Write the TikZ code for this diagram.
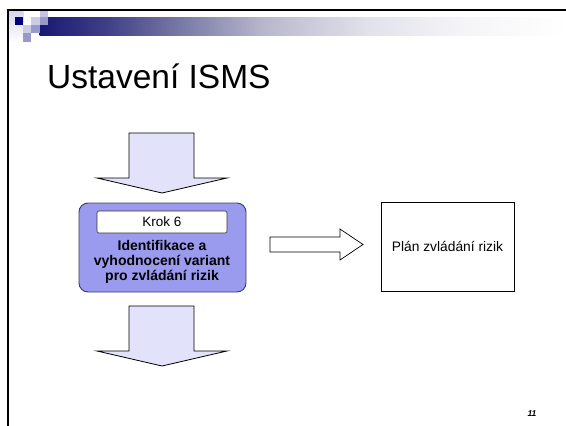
\documentclass[tikz,border=0pt]{standalone}
\usepackage{fontspec}
\setmainfont{Liberation Sans}
\usetikzlibrary{calc}

% header bar: navy fading out to white
\pgfdeclarehorizontalshading{barfade}{100bp}{%
  rgb(0bp)=(0.098,0.098,0.451);
  rgb(25bp)=(0.098,0.098,0.451);
  rgb(31bp)=(0.235,0.235,0.529);
  rgb(37bp)=(0.431,0.431,0.627);
  rgb(46.5bp)=(0.725,0.725,0.804);
  rgb(56bp)=(0.882,0.882,0.922);
  rgb(65.5bp)=(0.961,0.961,0.973);
  rgb(75bp)=(1,1,1);
  rgb(100bp)=(1,1,1)}

\definecolor{navy}{RGB}{0,0,128}
\definecolor{lavlight}{RGB}{204,204,230}
\definecolor{lavmid}{RGB}{153,153,204}
\definecolor{stepfill}{RGB}{154,154,238}
\definecolor{stepline}{RGB}{60,60,100}
\definecolor{arrowfill}{RGB}{226,226,250}

\begin{document}
\begin{tikzpicture}[x=1pt,y=-1pt,
  bigarrow/.style={draw=black,line width=0.8pt,fill=arrowfill,line join=miter},
  hollowarrow/.style={draw=black,line width=0.7pt,fill=white,line join=miter},
  stepbox/.style={draw=stepline,line width=0.9pt,fill=stepfill,rounded corners=9pt,
    minimum width=167pt,minimum height=89pt,inner sep=0pt},
  labelbox/.style={draw=black!80,line width=0.6pt,fill=white,rounded corners=2pt,
    minimum width=130pt,minimum height=22pt,inner sep=0pt,
    font=\fontsize{13.5pt}{15pt}\selectfont},
  plainbox/.style={draw=black,line width=0.7pt,fill=white,
    minimum width=133pt,minimum height=89pt,inner sep=0pt,
    font=\fontsize{13.8pt}{15pt}\selectfont}]
\useasboundingbox (0,0) rectangle (566,426);

% corner decoration
\shade[top color=lavlight!80,bottom color=white] (8.7,11) rectangle (23.3,42);
\shade[shading=barfade] (39.7,17.3) rectangle (566,35);
\fill[navy]     (14.7,17.3) rectangle (23.3,25.3);
\fill[lavlight] (31,17.3)   rectangle (39.7,25.3);
\fill[lavlight!85!lavmid] (39.7,9)  rectangle (48.3,17.3);
\fill[lavmid]   (39.7,17.3) rectangle (48.3,25.3);
\fill[lavlight] (23.3,25.3) rectangle (31,33.3);
\fill[lavmid]   (31,25.3)   rectangle (39.7,33.3);
\fill[lavmid]   (23.3,33.3) rectangle (31,42);

% slide frame
\draw[line width=2pt] (7.7,426) -- (7.7,10) -- (566,10);

% title
\node[anchor=base west,inner sep=0pt,font=\fontsize{33.5pt}{38pt}\selectfont]
  (title) at (47,88) {Ustavení ISMS};

% incoming arrow
\draw[bigarrow] (129,133) -- (194,133) -- (194,178) -- (227,178) -- (162,193)
  -- (97,178) -- (129,178) -- cycle;
\coordinate (intip) at (162,193);

% step box
\node[stepbox] (step) at (162.5,247.5) {};
\node[labelbox] (krok) at (162,222) {Krok 6};
\node[align=center,inner sep=0pt,font=\fontsize{14pt}{15pt}\selectfont\bfseries,anchor=base]
  (steptext) at (162,280) {Identifikace a\\vyhodnocení variant\\pro zvládání rizik};

% outgoing arrow
\draw[bigarrow] (129,306) -- (194,306) -- (194,351) -- (227,351) -- (162,366)
  -- (97,351) -- (129,351) -- cycle;
\coordinate (outtip) at (162,366);

% arrow to the plan
\draw[hollowarrow] (270,237) -- (340,237) -- (340,229) -- (363,244.5)
  -- (340,260) -- (340,252) -- (270,252) -- cycle;

% plan box
\node[plainbox] (plan) at (447.5,246.5) {Plán zvládání rizik};

% page number
\node[anchor=base,inner sep=0pt,font=\fontsize{8.5pt}{10pt}\selectfont\bfseries\itshape]
  (pageno) at (532,416) {11};
\end{tikzpicture}
\end{document}
